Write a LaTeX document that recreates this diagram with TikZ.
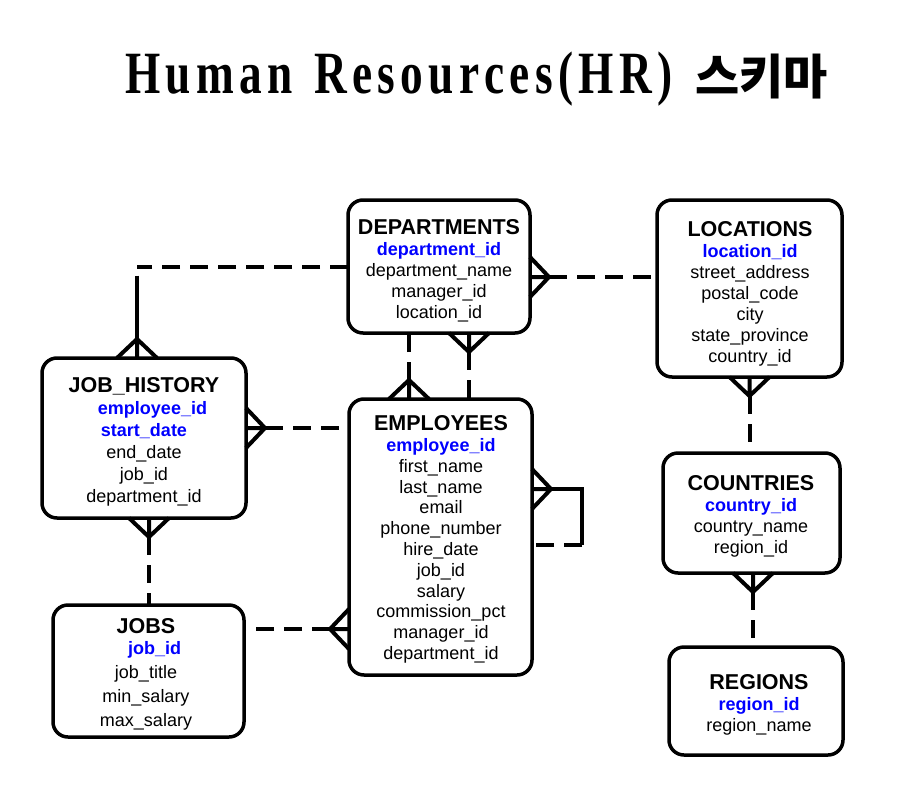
\documentclass[tikz,border=0pt]{standalone}
\usepackage{fontspec}
\usepackage{graphicx}
\setmainfont{Liberation Sans}
\newfontfamily\titlefont{Liberation Serif}[LetterSpace=12]
\newfontfamily\cjkfont{Noto Sans CJK KR}
\usetikzlibrary{calc}
\definecolor{keyblue}{RGB}{0,0,255}
\tikzset{
  entity/.style={draw, line width=3.5pt, rounded corners=15pt, inner sep=0pt, outer sep=0pt},
  fields/.style={align=center, inner sep=0pt, anchor=north, font=\fontsize{18}{#1}\selectfont},
  fields/.default=21,
  rel/.style={line width=4pt, dash pattern=on 18pt off 10pt},
  relsolid/.style={line width=4pt},
  crowfoot/.pic={\draw[relsolid] (19,20) -- (0,0) -- (19,-20) (0,0) -- (19,0);}
}
\newcommand{\tname}[1]{{\fontsize{21.5}{21}\selectfont\bfseries #1}}
\newcommand{\tkey}[1]{{\bfseries\color{keyblue}#1}}
\begin{document}
\begin{tikzpicture}[x=1pt,y=-1pt]
    \useasboundingbox[fill=white] (0,0) rectangle (905,798);

    % Title
    \node[anchor=base west, inner sep=0pt] (title) at (125,93)
        {\titlefont\bfseries\fontsize{60}{60}\selectfont\scalebox{0.755}[1]{Human\hspace{28pt}Resources(HR)}};
    \node[anchor=base west, inner sep=0pt] (titleKo) at (695,94)
        {\cjkfont\bfseries\fontsize{48}{48}\selectfont 스키마};

    % Tables
    \node[entity, minimum width=182pt, minimum height=133pt] (dept) at (439,266.5) {};
    \node[entity, minimum width=185pt, minimum height=177pt] (loc) at (749.5,288.5) {};
    \node[entity, minimum width=204pt, minimum height=160pt] (jh) at (144,438) {};
    \node[entity, minimum width=183pt, minimum height=276pt] (emp) at (440.5,537) {};
    \node[entity, minimum width=177pt, minimum height=120pt] (ctry) at (751.5,513) {};
    \node[entity, minimum width=191pt, minimum height=132pt] (jobs) at (148.5,671) {};
    \node[entity, minimum width=174pt, minimum height=108pt] (reg) at (756,701) {};

    \node[fields] (deptT) at (439,219.5) {\tname{DEPARTMENTS}\\ \tkey{department\_id}\\
        department\_name\\ manager\_id\\ location\_id};
    \node[fields] (locT) at (750,221.5) {\tname{LOCATIONS}\\ \tkey{location\_id}\\ street\_address\\
        postal\_code\\ city\\ state\_province\\ country\_id};
    \node[fields=22] (jhT) at (144,377.5) {\tname{JOB\_HISTORY}\\ \hspace*{17pt}\tkey{employee\_id}\\
        \tkey{start\_date}\\ end\_date\\ job\_id\\ department\_id};
    \node[fields=20.8] (empT) at (441,415.5) {\tname{EMPLOYEES}\\ \tkey{employee\_id}\\ first\_name\\
        last\_name\\ email\\ phone\_number\\ hire\_date\\ job\_id\\ salary\\ commission\_pct\\
        manager\_id\\ department\_id};
    \node[fields] (ctryT) at (751,475.5) {\tname{COUNTRIES}\\ \tkey{country\_id}\\ country\_name\\ region\_id};
    \node[fields=24] (jobsT) at (146,618.5) {\tname{JOBS}\\[-3pt] \hspace*{17pt}\tkey{job\_id}\\ job\_title\\
        min\_salary\\ max\_salary};
    \node[fields] (regT) at (759,674.5) {\tname{REGIONS}\\ \tkey{region\_id}\\ region\_name};

    % DEPARTMENTS - JOB_HISTORY
    \coordinate (jhTop) at ($(jh.north)+(-7,0)$);
    \draw[rel] (dept.west) -- (dept.west -| jhTop);
    \draw[relsolid] ($(dept.west -| jhTop)+(0,9)$) -- (jhTop);
    \pic[rotate=-90] at ($(jhTop)+(0,-19)$) {crowfoot};

    % DEPARTMENTS - LOCATIONS
    \coordinate (deptR) at ($(dept.east)+(0,10.5)$);
    \pic[rotate=180] at ($(deptR)+(19,0)$) {crowfoot};
    \draw[rel] ($(deptR)+(19,0)$) -- (loc.west |- deptR);

    % DEPARTMENTS - EMPLOYEES
    \coordinate (empTop) at ($(emp.north)+(-31.5,0)$);
    \pic[rotate=-90] at ($(empTop)+(0,-19)$) {crowfoot};
    \draw[rel] ($(empTop)+(0,-19)$) -- (empTop |- dept.south);
    \coordinate (deptBot) at ($(dept.south)+(30,0)$);
    \pic[rotate=90] at ($(deptBot)+(0,19)$) {crowfoot};
    \draw[rel] ($(deptBot)+(0,19)$) -- (deptBot |- emp.north);

    % JOB_HISTORY - EMPLOYEES
    \coordinate (jhR) at ($(jh.east)+(0,-10)$);
    \pic[rotate=180] at ($(jhR)+(19,0)$) {crowfoot};
    \draw[rel] ($(jhR)+(19,0)$) -- (emp.west |- jhR);

    % EMPLOYEES - EMPLOYEES (manager)
    \coordinate (empR) at ($(emp.east)+(0,-48)$);
    \coordinate (selfA) at ($(emp.east)+(50,-48)$);
    \coordinate (selfB) at ($(emp.east)+(50,8)$);
    \pic[rotate=180] at ($(empR)+(19,0)$) {crowfoot};
    \draw[relsolid] ($(empR)+(19,0)$) -- (selfA) -- (selfB);
    \draw[rel] (selfB) -- (emp.east |- selfB);

    % JOB_HISTORY - JOBS
    \coordinate (jhBot) at ($(jh.south)+(5,0)$);
    \pic[rotate=90] at ($(jhBot)+(0,19)$) {crowfoot};
    \draw[rel] ($(jhBot)+(0,19)$) -- (jhBot |- jobs.north);

    % JOBS - EMPLOYEES
    \coordinate (empL) at ($(emp.west)+(0,92)$);
    \pic at ($(empL)+(-19,0)$) {crowfoot};
    \draw[rel] ($(empL)+(-19,0)$) -- (jobs.east |- empL);

    % LOCATIONS - COUNTRIES - REGIONS
    \coordinate (locBot) at (loc.south);
    \pic[rotate=90] at ($(locBot)+(0,19)$) {crowfoot};
    \draw[rel] ($(locBot)+(0,19)$) -- (locBot |- ctry.north);
    \coordinate (ctryBot) at ($(ctry.south)+(1.5,0)$);
    \pic[rotate=90] at ($(ctryBot)+(0,19)$) {crowfoot};
    \draw[rel] ($(ctryBot)+(0,19)$) -- (ctryBot |- reg.north);
\end{tikzpicture}
\end{document}
